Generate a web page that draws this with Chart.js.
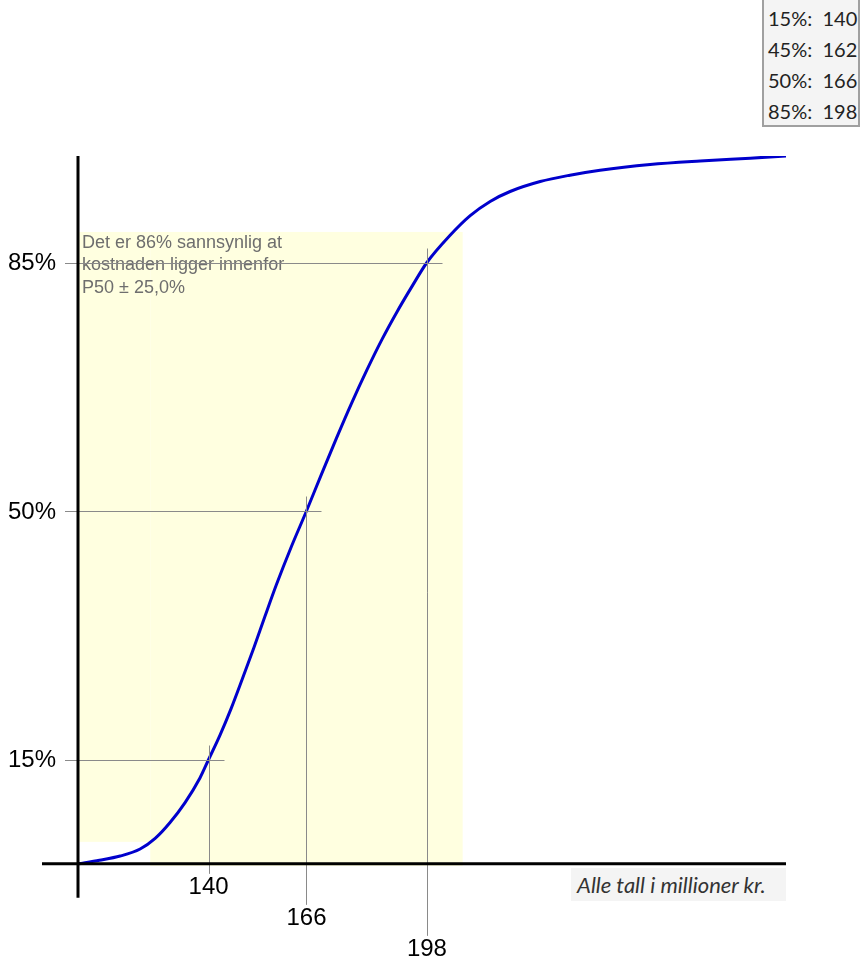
<!DOCTYPE html>
<html lang="no">
<head>
<meta charset="utf-8">
<title>S-kurve kostnad</title>
<script src="https://cdn.jsdelivr.net/npm/chart.js@4.4.1/dist/chart.umd.min.js"></script>
<style>
  html, body { margin: 0; padding: 0; background: #fff; }
  #wrap { position: relative; width: 861px; height: 966px; overflow: hidden; }
  #kurve { position: absolute; left: 0; top: 0; }
  #tabell {
    position: absolute; left: 762px; top: -2px; width: 98px; height: 129px;
    background: #f4f4f4; border: 2px solid #a0a0a0; box-sizing: border-box;
    font-family: Lato, "Open Sans", sans-serif; font-size: 20px; color: #222;
    padding: 3px 0 0 4px; line-height: 31px; white-space: pre;
  }
  #enhet {
    position: absolute; left: 571px; top: 868px; width: 215px; height: 33px;
    background: #f4f4f4; font-family: Lato, sans-serif; font-style: italic;
    font-size: 22px; color: #333; line-height: 33px; padding-left: 6px; box-sizing: border-box;
  }
</style>
</head>
<body>
<div id="wrap">
  <canvas id="kurve" width="861" height="966"></canvas>
  <div id="tabell"></div>
  <div id="enhet">Alle tall i millioner kr.</div>
</div>
<script>
// Kumulativ sannsynlighet (S-kurve), verdier lest av figuren.
const kostnad = [105.3, 111.0, 116.5, 121.8, 125.8, 129.7, 133.7, 137.7, 140, 143, 146, 149, 152, 155, 158,
  162, 166, 170, 174, 178, 182, 186, 190, 194, 198, 204.1, 209.5, 214.8, 220.1,
  228.1, 236.0, 244.0, 257.3, 270.6, 283.9, 293.4];
const sannsynlighet = [0.3, 0.8, 1.4, 2.4, 3.9, 6.1, 8.9, 12.4, 15, 18.4, 22.2, 26.4, 30.7, 35.2, 39.6,
  45, 50, 55.2, 60.3, 65.2, 69.8, 74.1, 78.0, 81.6, 85, 88.8, 91.6, 93.6, 95.0,
  96.4, 97.3, 98.0, 98.8, 99.3, 99.7, 100];

// Persentiler i tabellen oppe til høyre
const persentiler = [15, 45, 50, 85];
const persentilVerdier = [140, 162, 166, 198];

// Persentiler som markeres med trådkors i figuren
const markert = [15, 50, 85];
const markertVerdi = [140, 166, 198];

const p50 = 166;
const spenn = 0.25;           // P50 ± 25 %
const tekst = ['Det er 86% sannsynlig at', 'kostnaden ligger innenfor', 'P50 ± 25,0%'];

const xMin = 105.3, xMax = 293.4;
const gul = 'rgb(255,255,224)';
const gra = '#8a8a8a';

document.getElementById('tabell').textContent =
  persentiler.map((p, i) => p + '%:  ' + persentilVerdier[i]).join('\n');

const tegning = {
  id: 'tegning',
  beforeDatasetsDraw(chart) {
    const { ctx, scales: { x, y } } = chart;
    const venstre = x.getPixelForValue(xMin);
    const bandV = x.getPixelForValue(p50 * (1 - spenn));
    const bandH = x.getPixelForValue(p50 * (1 + spenn));
    const topp = y.getPixelForValue(89.3);
    ctx.save();
    ctx.fillStyle = gul;
    ctx.fillRect(bandV, topp, bandH - bandV, y.getPixelForValue(0) - topp);
    ctx.fillRect(venstre, topp, bandV - venstre, y.getPixelForValue(3.4) - topp);
    ctx.fillStyle = '#6e6e6e';
    ctx.font = '18px "Liberation Sans", Arial, sans-serif';
    ctx.textBaseline = 'middle';
    tekst.forEach((t, i) => ctx.fillText(t, venstre + 4, topp + 11 + i * 22.5));
    ctx.restore();
  },
  afterDatasetsDraw(chart) {
    const { ctx, scales: { x, y } } = chart;
    const ax = x.getPixelForValue(xMin);
    const ay = y.getPixelForValue(0.3);
    ctx.save();
    // trådkors
    ctx.strokeStyle = gra;
    ctx.lineWidth = 1;
    markert.forEach((p, i) => {
      const px = Math.round(x.getPixelForValue(markertVerdi[i])) + 0.5;
      const py = Math.round(y.getPixelForValue(p)) + 0.5;
      ctx.beginPath();
      ctx.moveTo(ax - 13, py); ctx.lineTo(px + 15, py);
      ctx.moveTo(px, py - 15); ctx.lineTo(px, ay + 10 + i * 31);
      ctx.stroke();
    });
    // akser
    ctx.strokeStyle = '#000';
    ctx.lineWidth = 3;
    ctx.beginPath();
    ctx.moveTo(ax, y.getPixelForValue(100)); ctx.lineTo(ax, ay + 34);
    ctx.moveTo(ax - 36, ay); ctx.lineTo(x.getPixelForValue(xMax), ay);
    ctx.stroke();
    // akseetiketter
    ctx.fillStyle = '#000';
    ctx.font = '24px "Liberation Sans", Arial, sans-serif';
    ctx.textBaseline = 'middle';
    ctx.textAlign = 'right';
    markert.forEach(p => ctx.fillText(p + '%', ax - 22, y.getPixelForValue(p) + 1));
    ctx.textAlign = 'center';
    markertVerdi.forEach((v, i) => ctx.fillText(String(v), x.getPixelForValue(v), ay + 24 + i * 31));
    ctx.restore();
  }
};

new Chart(document.getElementById('kurve'), {
  type: 'line',
  data: {
    datasets: [{
      data: kostnad.map((k, i) => ({ x: k, y: sannsynlighet[i] })),
      borderColor: '#0000cc',
      borderWidth: 3,
      pointRadius: 0,
      cubicInterpolationMode: 'monotone',
      fill: false,
    }],
  },
  options: {
    responsive: false,
    animation: false,
    devicePixelRatio: 1,
    layout: { padding: { left: 78, right: 75, top: 156, bottom: 100 } },
    plugins: { legend: { display: false }, tooltip: { enabled: false } },
    scales: {
      x: { type: 'linear', min: xMin, max: xMax, display: false },
      y: { min: 0, max: 100, display: false },
    },
  },
  plugins: [tegning],
});
</script>
</body>
</html>
